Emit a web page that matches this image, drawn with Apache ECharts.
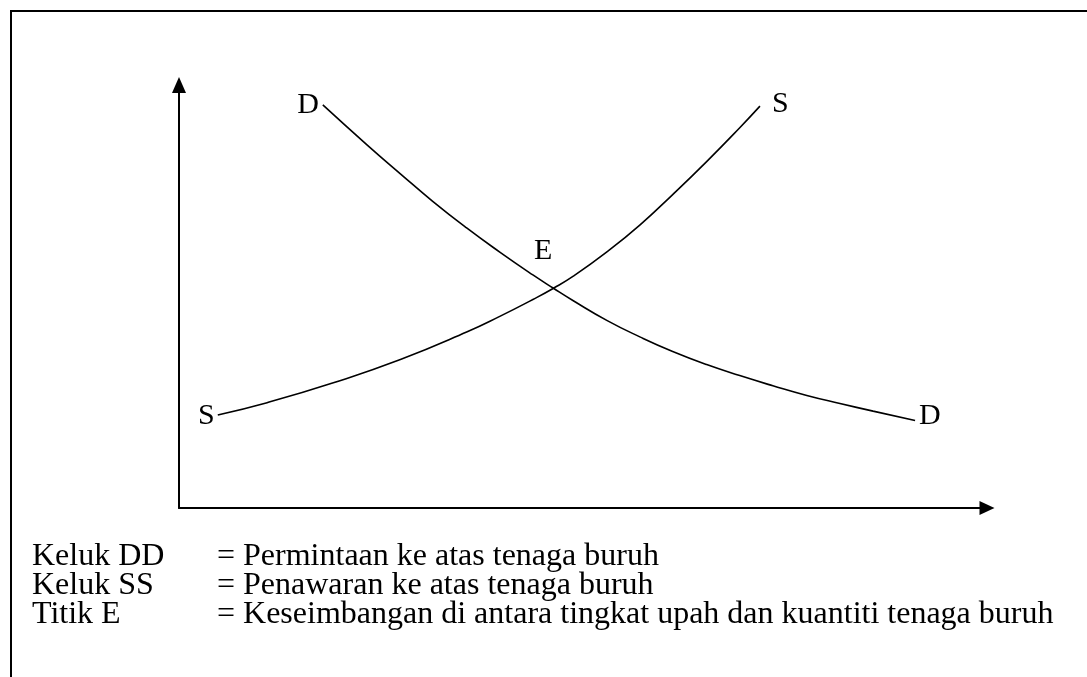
<!DOCTYPE html>
<html>
<head>
<meta charset="utf-8">
<script src="https://cdn.jsdelivr.net/npm/echarts@6/dist/echarts.min.js"></script>
<style>
html,body{margin:0;padding:0;background:#fff;}
#chart{width:1087px;height:677px;}
</style>
</head>
<body>
<div id="chart"></div>
<script>
// Demand curve DD (quantity of labour, wage) in axis units 0..100
const demandX = [17.8, 23.3, 27.4, 31.4, 35.6, 39.7, 43.8, 46.3, 48.8, 53.0, 57.1, 61.1, 65.3, 69.4, 73.5, 77.7, 81.8, 85.9, 91.1];
const demandY = [95.3, 85.8, 79.0, 72.5, 66.2, 60.5, 55.1, 52.0, 49.0, 44.3, 40.4, 37.0, 33.9, 31.3, 28.9, 26.6, 24.7, 22.9, 20.7];
// Supply curve SS
const supplyX = [4.8, 10.9, 19.1, 27.4, 35.6, 39.7, 43.8, 46.3, 48.8, 53.0, 57.1, 61.1, 65.3, 69.4, 71.9];
const supplyY = [22.0, 24.9, 29.6, 35.1, 41.6, 45.3, 49.3, 51.9, 54.8, 60.6, 67.0, 74.1, 81.9, 89.9, 95.0];
// Equilibrium point E
const equilibrium = [46.3, 52.0];
// Curve end labels
const demandLabels = ['D', 'D'];
const supplyLabels = ['S', 'S'];
const equilibriumLabel = 'E';
// Legend text rows
const legendKeys = ['Keluk DD', 'Keluk SS', 'Titik E'];
const legendDescs = ['= Permintaan ke atas tenaga buruh', '= Penawaran ke atas tenaga buruh', '= Keseimbangan di antara tingkat upah dan kuantiti tenaga buruh'];

const FONT = '"Liberation Serif", "Times New Roman", serif';
const FS = 32;

const zip = (xs, ys) => xs.map((x, i) => [x, ys[i]]);
const last = a => a[a.length - 1];

const labelStyle = { color: '#000', opacity: 1, fontFamily: FONT, fontSize: 30 };

function endLabel(x, y, text, pos, dist, off) {
  return { value: [x, y], label: Object.assign({ show: true, formatter: text, position: pos, distance: dist, offset: off }, labelStyle) };
}

const chart = echarts.init(document.getElementById('chart'), null, { renderer: 'canvas' });

const graphics = [
  { type: 'rect', shape: { x: 11, y: 11, width: 1200, height: 800 }, style: { fill: 'none', stroke: '#000', lineWidth: 2 }, silent: true }
];
legendKeys.forEach((k, i) => {
  graphics.push({ type: 'text', left: 32, top: 541 + i * 29, style: { text: k, font: FS + 'px ' + FONT, fill: '#000' } });
  graphics.push({ type: 'text', left: 217, top: 541 + i * 29, style: { text: legendDescs[i], font: FS + 'px ' + FONT, fill: '#000' } });
});

chart.setOption({
  animation: false,
  backgroundColor: '#fff',
  grid: { left: 179, top: 85, width: 808, height: 423, containLabel: false },
  xAxis: {
    type: 'value', min: 0, max: 100,
    axisLine: { show: true, onZero: false, symbol: ['none', 'triangle'], symbolSize: [14, 15], lineStyle: { color: '#000', width: 2 } },
    axisTick: { show: false }, axisLabel: { show: false }, splitLine: { show: false }
  },
  yAxis: {
    type: 'value', min: 0, max: 100,
    axisLine: { show: true, onZero: false, symbol: ['none', 'triangle'], symbolSize: [14, 16], lineStyle: { color: '#000', width: 2 } },
    axisTick: { show: false }, axisLabel: { show: false }, splitLine: { show: false }
  },
  graphic: graphics,
  series: [
    {
      type: 'line', name: 'DD', smooth: 0.5, showSymbol: false,
      lineStyle: { color: '#000', width: 1.6 },
      data: zip(demandX, demandY)
    },
    {
      type: 'line', name: 'SS', smooth: 0.5, showSymbol: false,
      lineStyle: { color: '#000', width: 1.6 },
      data: zip(supplyX, supplyY)
    },
    {
      type: 'scatter', name: 'labels', symbolSize: 0, itemStyle: { opacity: 1 },
      data: [
        endLabel(demandX[0], demandY[0], demandLabels[0], 'left', 4, [0, 0]),
        endLabel(last(demandX), last(demandY), demandLabels[1], 'right', 4, [0, -4]),
        endLabel(supplyX[0], supplyY[0], supplyLabels[0], 'left', 3, [0, 1]),
        endLabel(last(supplyX), last(supplyY), supplyLabels[1], 'right', 12, [0, -2])
      ]
    },
    {
      type: 'scatter', name: 'E', symbolSize: 0, itemStyle: { opacity: 1 },
      label: Object.assign({ show: true, formatter: equilibriumLabel, position: 'top', distance: 0, offset: [-10, -22] }, labelStyle),
      data: [equilibrium]
    }
  ]
});
</script>
</body>
</html>
